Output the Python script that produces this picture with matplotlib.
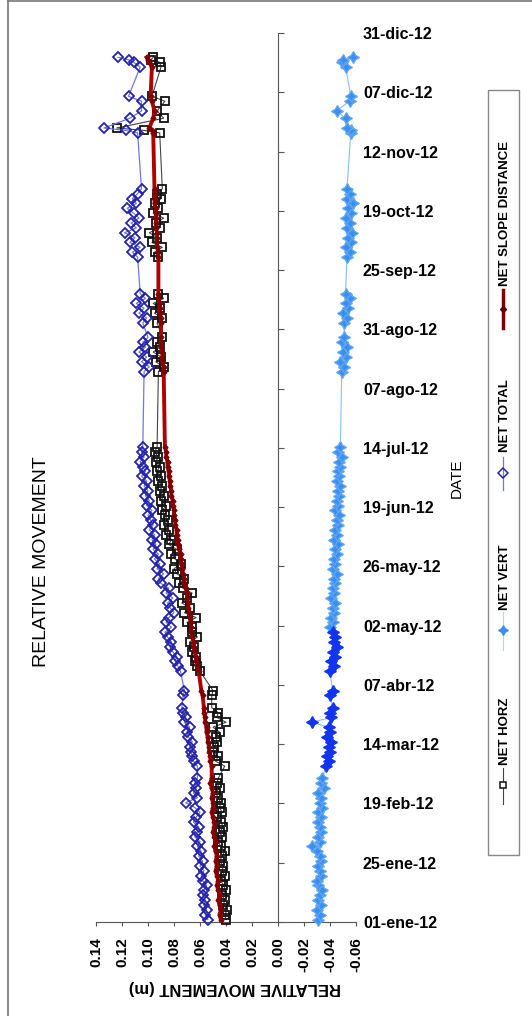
import numpy as np
import matplotlib
matplotlib.use("Agg")
import matplotlib.pyplot as plt
from matplotlib.patches import Rectangle

plt.rcParams['font.family'] = ['Liberation Sans', 'DejaVu Sans']

# survey days, counted from 01-ene-2012
days = [1, 3, 5, 7, 9, 11, 13, 15, 17, 19, 21, 23, 25, 27, 29,
        31, 33, 35, 37, 39, 41, 43, 45, 47, 49, 51, 53, 55, 57, 59,
        64, 66, 68, 70, 72, 74, 76, 78, 80, 82, 84, 86, 88,
        93, 95,
        103, 105, 107, 109, 111, 113, 115, 117, 119,
        121, 123, 125, 127, 129, 131, 133, 135, 137, 139, 141, 143, 145,
        147, 149, 151, 153, 155, 157, 159, 161, 163, 165, 167, 169, 171,
        173, 175, 177, 179, 181, 183, 185, 187, 189, 191, 193, 195,
        226, 228, 230, 232, 234, 236, 238, 240,
        246, 248, 250, 252, 254, 256, 258,
        273, 275, 277, 279, 281, 283, 285, 287, 289, 291, 293, 295, 297, 299, 301,
        324, 325, 326, 330, 333, 337, 339, 351, 353, 354, 355]

# movements in mm
horz_mm = [40, 41, 39, 42, 41, 43, 40, 42, 44, 41, 43, 42, 45, 43, 41,
           44, 46, 43, 45, 42, 44, 47, 43, 45, 44, 46, 48, 45, 47, 46,
           41, 48, 46, 50, 49, 47, 48, 45, 50, 40, 47, 46, 51,
           51, 50,
           60, 62, 64, 63, 66, 65, 68, 62, 66,
           66, 70, 63, 72, 68, 74, 70, 66, 73, 76, 72, 78, 80,
           75, 79, 82, 78, 84, 82, 86, 84, 88, 85, 87, 89, 86,
           90, 88, 91, 89, 92, 90, 93, 91, 94, 92, 95, 93,
           92, 88, 94, 90, 96, 91, 93, 89,
           93, 89, 95, 91, 96, 88, 92,
           92, 95, 89, 97, 93, 99, 91, 94, 88, 96, 92, 95, 90, 93, 89,
           91, 103, 124, 88, 93, 87, 97, 90, 91, 98, 96]

vert_mm = [-31, -32, -30, -33, -31, -32, -34, -31, -30, -33, -32, -31, -33, -32, -30,
           -26, -32, -31, -33, -32, -31, -33, -31, -34, -32, -33, -31, -35, -33, -34,
           -37, -39, -38, -40, -39, -41, -38, -40, -39, -26, -41, -40, -42,
           -40, -42,
           -40, -43, -41, -44, -42, -45, -43, -44, -42,
           -40, -42, -41, -43, -42, -44, -41, -43, -42, -44, -43, -45, -42,
           -44, -43, -45, -44, -46, -43, -45, -44, -46, -45, -47, -44, -46,
           -45, -47, -46, -48, -45, -47, -46, -48, -47, -49, -46, -48,
           -49, -51, -48, -52, -50, -53, -49, -51,
           -51, -53, -50, -54, -52, -55, -52,
           -53, -55, -52, -56, -54, -57, -53, -55, -52, -56, -54, -58, -53, -55, -53,
           -56, -56, -53, -52, -45, -55, -56, -52, -49, -50, -58]

total_mm = [54, 56, 55, 57, 56, 58, 57, 55, 58, 59, 57, 60, 58, 61, 59,
            62, 60, 64, 62, 61, 65, 63, 60, 64, 71, 62, 65, 63, 64, 62,
            62, 65, 66, 67, 68, 66, 69, 70, 68, 72, 71, 73, 74,
            73, 72,
            75, 77, 79, 78, 81, 83, 82, 85, 87,
            82, 86, 84, 80, 83, 85, 81, 86, 84, 90, 92, 88, 93,
            91, 95, 92, 96, 94, 97, 95, 99, 96, 98, 100, 97, 101,
            99, 102, 100, 103, 101, 105, 102, 104, 106, 103, 105, 104,
            103, 99, 105, 101, 107, 102, 104, 100,
            104, 101, 107, 103, 109, 102, 106,
            108, 112, 106, 114, 110, 118, 109, 113, 107, 111, 116, 109, 112, 108, 105,
            108, 117, 134, 114, 105, 105, 115, 106, 111, 115, 123]

slope_mm = [44, 45, 44, 45, 46, 45, 46, 47, 46, 47, 48, 47, 48, 47, 48,
            49, 48, 49, 50, 49, 49, 50, 51, 50, 50, 51, 50, 51, 52, 51,
            51, 52, 52, 53, 53, 54, 54, 55, 55, 56, 56, 57, 57,
            58, 59,
            61, 62, 63, 63, 64, 65, 65, 66, 67,
            67, 67, 68, 68, 69, 69, 70, 70, 71, 72, 72, 73, 74,
            74, 75, 75, 76, 77, 77, 78, 78, 79, 79, 80, 80, 81,
            81, 82, 82, 83, 83, 84, 84, 85, 85, 86, 86, 87,
            88, 88, 89, 89, 89, 90, 90, 90,
            90, 90, 91, 91, 91, 92, 92,
            92, 92, 93, 93, 93, 93, 94, 94, 94, 94, 94, 95, 95, 95, 95,
            96, 97, 99, 96, 95, 97, 98, 97, 99, 100, 101]

date_labels = ['01-ene-12', '25-ene-12', '19-feb-12', '14-mar-12', '07-abr-12',
               '02-may-12', '26-may-12', '19-jun-12', '14-jul-12', '07-ago-12',
               '31-ago-12', '25-sep-12', '19-oct-12', '12-nov-12', '07-dic-12',
               '31-dic-12']
mov_ticks = [0.14, 0.12, 0.10, 0.08, 0.06, 0.04, 0.02, 0.00, -0.02, -0.04, -0.06]

d = np.array(days)
t = np.datetime64('2012-01-01') + d.astype('timedelta64[D]')
horz = np.array(horz_mm) / 1000
vert = np.array(vert_mm) / 1000
total = np.array(total_mm) / 1000
slope = np.array(slope_mm) / 1000

W, H = 532, 1016
fig = plt.figure(figsize=(W / 100, H / 100), dpi=100)
fig.patch.set_facecolor('white')

# chart is laid out sideways: movement across, date upwards
ax = fig.add_axes([96 / W, 94 / H, 260 / W, 889 / H])
ax.patch.set_alpha(0)

ax.plot(horz, t, color='#444444', lw=0.8, marker='s', ms=6, mfc='none',
        mec='#111111', mew=1.3, clip_on=False, zorder=3)

ax.plot(vert, t, color='#8dbef2', lw=0.8, zorder=3)
mid = (d > 60) & (d < 120)
ax.plot(vert[~mid], t[~mid], ls='none', marker=(4, 1, 0), ms=8.5,
        color='#3a8ef0', mec='#5fa6f2', clip_on=False, zorder=4)
ax.plot(vert[mid], t[mid], ls='none', marker=(4, 1, 0), ms=8.5,
        color='#1234f0', mec='#1234f0', zorder=4)

ax.plot(total, t, color='#7474e6', lw=0.9, marker='D', ms=5.2, mfc='none',
        mec='#2424aa', mew=1.3, clip_on=False, zorder=5)

ax.plot(slope, t, color='#b00000', lw=2.8, marker='D', ms=2.5,
        mfc='#800000', mec='#800000', clip_on=False, zorder=6)

ax.set_xlim(0.14, -0.06)
ax.set_ylim(np.datetime64('2012-01-01'), np.datetime64('2012-12-31'))

ax.spines['top'].set_visible(False)
ax.spines['right'].set_visible(False)
ax.spines['left'].set_position(('data', 0))
ax.spines['left'].set_color('#555555')
ax.spines['bottom'].set_color('#555555')

ax.set_xticks(mov_ticks)
ax.set_xticklabels([f'{v:.2f}' for v in mov_ticks], rotation=90,
                   fontsize=11, fontweight='bold')
ax.tick_params(axis='x', direction='out', length=3, color='#555555', pad=8)

ylo, yhi = ax.get_ylim()
ax.set_yticks(np.linspace(ylo, yhi, len(date_labels)))
ax.set_yticklabels(date_labels, fontsize=11.5, fontweight='bold')
ax.tick_params(axis='y', left=True, right=False, labelleft=False,
               labelright=True, direction='in', length=4, color='#555555', pad=5)

# texts, legend and page frame in pixel coordinates
ov = fig.add_axes([0, 0, 1, 1])
ov.set_xlim(0, W)
ov.set_ylim(H, 0)
ov.axis('off')
ov.patch.set_alpha(0)

ov.plot([8, 8], [0, H], color='#777777', lw=1.2)
ov.plot([8, W], [1, 1], color='#777777', lw=1.2)

ov.text(42, 562, 'RELATIVE MOVEMENT', rotation=90, ha='center', va='center',
        fontsize=14)
ov.text(235, 988, 'RELATIVE MOVEMENT (m)', rotation=180, ha='center',
        va='center', fontsize=12, fontweight='bold')
ov.text(457, 478, 'DATE', rotation=90, ha='center', va='center', fontsize=11)

ov.add_patch(Rectangle((488, 90), 31, 765, fill=False, ec='#888888', lw=1))
ov.plot([503, 503], [290, 328], color='#800000', lw=2.5)
ov.plot([503], [309], marker='D', ms=3, color='#600000')
ov.plot([503, 503], [457, 490], color='#7474e6', lw=0.9)
ov.plot([503], [473], marker='D', ms=4.8, mfc='none', mec='#2424aa', mew=1.1)
ov.plot([503, 503], [612, 650], color='#b8d4f2', lw=0.8)
ov.plot([503], [630], marker=(4, 1, 0), ms=7, color='#3a8ef0')
ov.plot([503, 503], [768, 804], color='#444444', lw=0.8)
ov.plot([503], [785], marker='s', ms=5, mfc='white', mec='#111111', mew=1.1)

for name, yc in [('NET SLOPE DISTANCE', 213), ('NET TOTAL', 416),
                 ('NET VERT', 577), ('NET HORZ', 731)]:
    ov.text(505, yc, name, rotation=90, ha='center', va='center',
            fontsize=9.5, fontweight='bold')

fig.savefig('out.png', dpi=100)
